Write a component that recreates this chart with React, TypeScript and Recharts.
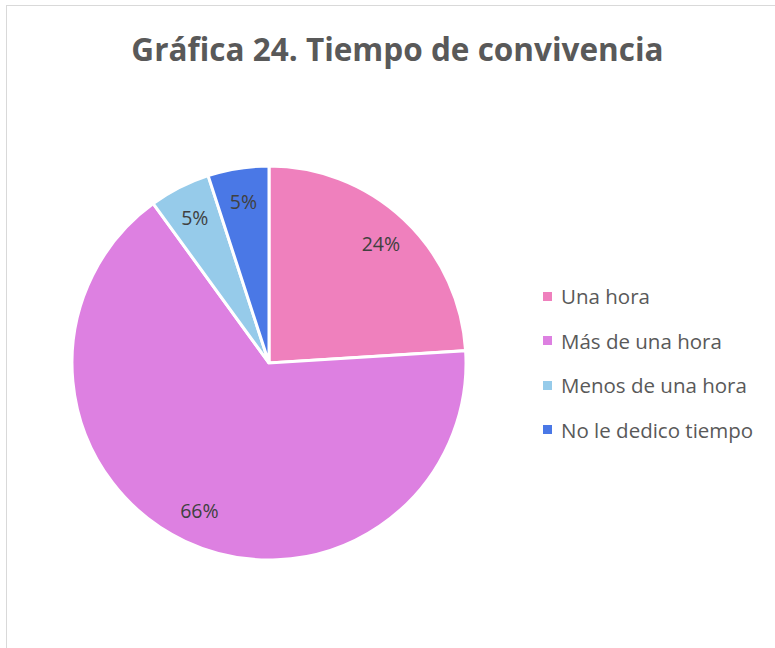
import { PieChart, Pie, Cell } from "recharts"

// Gráfica 24 — tiempo de convivencia (porcentaje de respuestas)
const CATEGORIES = ["Una hora", "Más de una hora", "Menos de una hora", "No le dedico tiempo"]
const VALUES = [24, 66, 5, 5]
const COLORS = ["#EF80BD", "#DD80E1", "#96CBEA", "#4A78E6"]

const DATA = CATEGORIES.map((name, i) => ({ name, value: VALUES[i] }))

const FONT = "'Open Sans', 'Noto Sans', sans-serif"
const RAD = Math.PI / 180

function renderLabel(props: any) {
  const { cx, cy, midAngle, outerRadius, value } = props
  const r = outerRadius * 0.83
  const x = cx + r * Math.cos(-midAngle * RAD)
  const y = cy + r * Math.sin(-midAngle * RAD)
  return (
    <text
      x={x}
      y={y}
      textAnchor="middle"
      dominantBaseline="central"
      fill="#404040"
      fontSize={19.5}
      fontFamily={FONT}
    >
      {`${value}%`}
    </text>
  )
}

function LegendBox() {
  return (
    <div style={{ fontFamily: FONT, fontSize: 20.5, color: "#595959" }}>
      {CATEGORIES.map((name, i) => (
        <div key={name} style={{ display: "flex", alignItems: "center", height: 44.5 }}>
          <span
            style={{
              width: 9,
              height: 9,
              background: COLORS[i],
              marginRight: 9,
              display: "inline-block",
            }}
          />
          {name}
        </div>
      ))}
    </div>
  )
}

export default function App() {
  return (
    <div
      style={{
        position: "fixed",
        left: 0,
        top: 0,
        width: 775,
        height: 648,
        overflow: "hidden",
        background: "#fff",
      }}
    >
      <div
        style={{
          position: "absolute",
          left: 6,
          top: 5,
          width: 800,
          height: 700,
          borderLeft: "1px solid #d9d9d9",
          borderTop: "1px solid #d9d9d9",
        }}
      />
      <div
        style={{
          position: "absolute",
          left: 0,
          width: 795,
          top: 27,
          textAlign: "center",
          fontFamily: FONT,
          fontWeight: 700,
          fontSize: 31.5,
          color: "#595959",
        }}
      >
        Gráfica 24. Tiempo de convivencia
      </div>
      <div style={{ position: "absolute", left: 0, top: 0 }}>
        <PieChart width={775} height={648} margin={{ top: 0, right: 0, bottom: 0, left: 0 }}>
          <Pie
            data={DATA}
            dataKey="value"
            nameKey="name"
            cx={269}
            cy={363}
            outerRadius={197}
            startAngle={90}
            endAngle={-270}
            stroke="#ffffff"
            strokeWidth={3}
            label={renderLabel}
            labelLine={false}
            isAnimationActive={false}
          >
            {DATA.map((d, i) => (
              <Cell key={d.name} fill={COLORS[i]} />
            ))}
          </Pie>
        </PieChart>
      </div>
      <div style={{ position: "absolute", left: 543, top: 274 }}>
        <LegendBox />
      </div>
    </div>
  )
}
